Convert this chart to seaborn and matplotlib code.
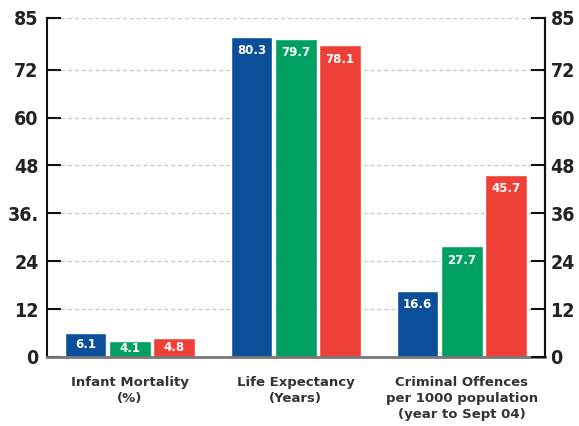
import matplotlib
matplotlib.use("Agg")
import matplotlib.pyplot as plt
import seaborn as sns
import pandas as pd

# data
categories = ["Infant Mortality\n(%)", "Life Expectancy\n(Years)",
              "Criminal Offences\nper 1000 population\n(year to Sept 04)"]
series_names = ["Series A", "Series B", "Series C"]
blue_vals = [6.1, 80.3, 16.6]
green_vals = [4.1, 79.7, 27.7]
red_vals = [4.8, 78.1, 45.7]
colors = ["#0b4f9b", "#00a062", "#ee4036"]
yticks = [0, 12, 24, 36, 48, 60, 72, 85]
left_ticklabels = ["0", "12", "24", "36.", "48", "60", "72", "85"]
right_ticklabels = ["0", "12", "24", "36", "48", "60", "72", "85"]

rows = []
for name, vals in zip(series_names, [blue_vals, green_vals, red_vals]):
    for cat, v in zip(categories, vals):
        rows.append({"category": cat, "series": name, "value": v})
df = pd.DataFrame(rows)

sns.set_style("white")
tick_font = dict(fontsize=14, fontweight="bold", family="DejaVu Sans",
                 fontstretch="condensed", color="#222222")

fig = plt.figure(figsize=(5.79, 4.26), dpi=100)
ax = fig.add_axes([0.081, 0.162, 0.86, 0.796])

sns.barplot(data=df, x="category", y="value", hue="series", palette=colors,
            width=0.8, gap=0.06, saturation=1, legend=False, ax=ax)

ax.set_ylim(0, 85)
ax.set_xlim(-0.5, 2.5)
ax.set_yticks(yticks)
ax.set_yticklabels(left_ticklabels, **tick_font)
ax.tick_params(axis="y", direction="in", length=10, width=1.5, color="#111111", pad=6)
for y in yticks[1:]:
    ax.axhline(y, color="#c4c4c4", lw=0.9, ls=(0, (3, 2.5)), zorder=0)

ax.set_xlabel("")
ax.set_ylabel("")
ax.set_xticks(range(len(categories)))
ax.set_xticklabels(categories, fontsize=9.5, fontweight="bold", color="#333333", linespacing=1.3)
ax.tick_params(axis="x", which="major", length=0, pad=14)
ax.set_xticks([0.5, 1.5], minor=True)
ax.tick_params(axis="x", which="minor", direction="in", length=6, width=1, color="#555555")

ax.spines["top"].set_visible(False)
ax.spines["left"].set_color("#111111")
ax.spines["left"].set_linewidth(1.5)
ax.spines["right"].set_color("#111111")
ax.spines["right"].set_linewidth(1.5)
ax.spines["bottom"].set_color("#777777")
ax.spines["bottom"].set_linewidth(2)

# right axis
ax2 = ax.twinx()
ax2.set_ylim(ax.get_ylim())
ax2.set_yticks(yticks)
ax2.set_yticklabels(right_ticklabels, **tick_font)
ax2.tick_params(axis="y", direction="in", length=10, width=1.5, color="#111111", pad=4)
for s in ["top", "left", "bottom"]:
    ax2.spines[s].set_visible(False)
ax2.spines["right"].set_color("#111111")
ax2.spines["right"].set_linewidth(1.5)

# value labels inside the bars
for cont in ax.containers:
    for p in cont:
        h = p.get_height()
        xc = p.get_x() + p.get_width() / 2
        if h < 10:
            ax.text(xc, h / 2, f"{h:.1f}", ha="center", va="center",
                    color="white", fontsize=8.5, fontweight="bold")
        else:
            ax.text(xc, h - 1.8, f"{h:.1f}", ha="center", va="top",
                    color="white", fontsize=8.5, fontweight="bold")

fig.savefig("out.png", dpi=100)
